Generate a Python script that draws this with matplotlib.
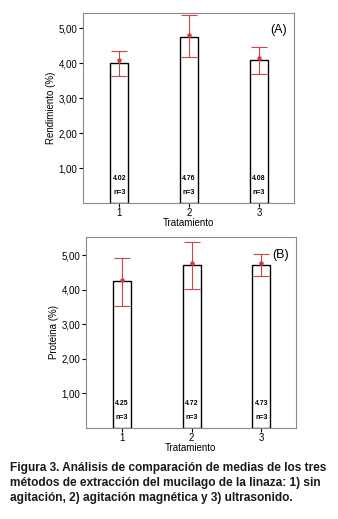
import numpy as np
import matplotlib
matplotlib.use("Agg")
matplotlib.rcParams['font.family'] = ['Liberation Sans', 'DejaVu Sans']
import matplotlib.pyplot as plt

tratamiento = [1, 2, 3]
tick_labels = ["1", "2", "3"]

# panel A: rendimiento
rend_media = [4.02, 4.76, 4.08]
rend_punto = [4.09, 4.82, 4.14]
rend_sup = [4.36, 5.37, 4.47]
rend_inf = [3.64, 4.17, 3.69]

# panel B: proteina
prot_media = [4.25, 4.72, 4.73]
prot_punto = [4.29, 4.78, 4.78]
prot_sup = [4.94, 5.38, 5.05]
prot_inf = [3.52, 4.04, 4.40]

n_obs = [3, 3, 3]

caption = ("Figura 3. Análisis de comparación de medias de los tres\n"
           "métodos de extracción del mucilago de la linaza: 1) sin\n"
           "agitación, 2) agitación magnética y 3) ultrasonido.")

fig = plt.figure(figsize=(3.38, 5.19), dpi=100)

def panel(rect, media, punto, sup, inf, ylabel, tag, ymax):
    ax = fig.add_axes(rect)
    x = np.array(tratamiento)
    ax.bar(x, media, width=0.26, color="white", edgecolor="black", linewidth=1.0, zorder=2)
    centro = (np.array(sup) + np.array(inf)) / 2
    half = (np.array(sup) - np.array(inf)) / 2
    ax.errorbar(x, centro, yerr=half, fmt="none", ecolor="#c8454a", elinewidth=0.8,
                capsize=6, capthick=0.8, zorder=3)
    ax.plot(x, punto, "o", color="#d9373c", markersize=2.2, zorder=4)
    for xi, m, n in zip(x, media, n_obs):
        ax.text(xi, 0.7, f"{m:.2f}", ha="center", va="center", fontsize=5, fontweight="bold")
        ax.text(xi, 0.3, f"n={n}", ha="center", va="center", fontsize=5, fontweight="bold")
    ax.set_xlim(0.48, 3.5)
    ax.set_ylim(0, ymax)
    ax.set_yticks([1, 2, 3, 4, 5])
    ax.set_yticklabels(["1,00", "2,00", "3,00", "4,00", "5,00"], fontsize=7)
    ax.set_xticks(x)
    ax.set_xticklabels(tick_labels, fontsize=7)
    ax.tick_params(axis="y", length=3, width=0.8, pad=1)
    ax.tick_params(axis="x", length=3, width=0.8, pad=1)
    for s in ax.spines.values():
        s.set_color("#8a8a8a")
        s.set_linewidth(0.8)
    ax.set_ylabel(ylabel, fontsize=7, labelpad=2)
    ax.set_xlabel("Tratamiento", fontsize=7, labelpad=0)
    ax.text(0.965, 0.94, tag, transform=ax.transAxes, ha="right", va="top", fontsize=9)
    return ax

panel([0.2456, 0.609, 0.624, 0.366], rend_media, rend_punto, rend_sup, rend_inf,
      "Rendimiento (%)", "(A)", 5.44)
panel([0.254, 0.176, 0.622, 0.367], prot_media, prot_punto, prot_sup, prot_inf,
      "Proteina (%)", "(B)", 5.53)

fig.text(0.030, 0.110, caption, ha="left", va="top", fontsize=8.6, fontweight="bold",
         color="#1a1a1a", linespacing=1.33)

fig.savefig("out.png", dpi=100)
